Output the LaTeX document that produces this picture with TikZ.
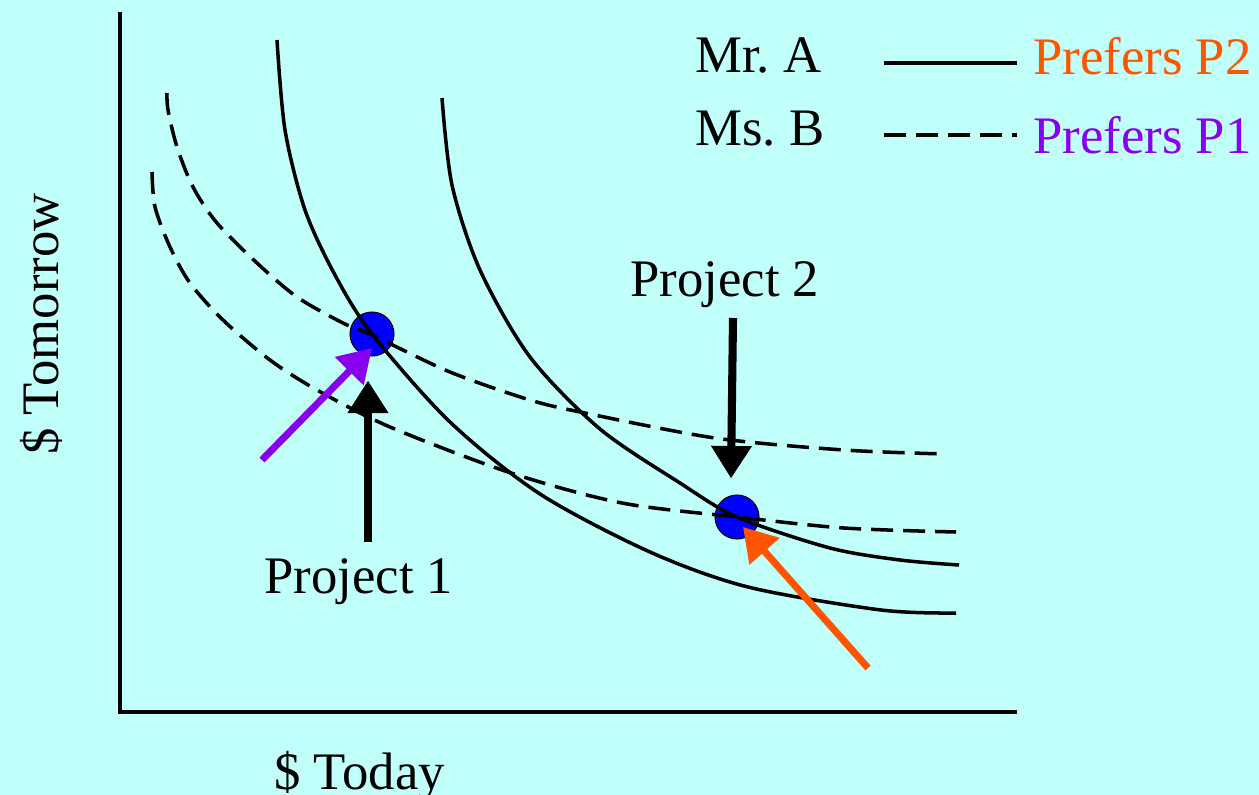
\documentclass[tikz,border=0pt]{standalone}
\usepackage{fontspec}
\setmainfont{Liberation Serif}
\usepackage{tikz}
\usetikzlibrary{arrows.meta, calc}
\definecolor{bgcyan}{RGB}{192,255,250}
\definecolor{porange}{RGB}{255,85,0}
\definecolor{ppurple}{RGB}{136,0,238}

\begin{document}
\begin{tikzpicture}[x=0.02cm, y=-0.02cm,
    every node/.style={font=\fontsize{30}{36}\selectfont, inner sep=0pt},
    curve/.style={line width=2pt},
    dcurve/.style={line width=2pt, dash pattern=on 12.5pt off 5.7pt},
    project/.style={circle, draw=black, line width=0.6pt, fill=blue, minimum size=0.88cm},
    bigarrow/.style={line width=4.6pt, -{Triangle[length=18.5pt, width=22pt]}}]
  \fill[bgcyan] (0,0) rectangle (1259,795);
  \useasboundingbox (0,0) rectangle (1259,795);

  % axes
  \coordinate (origin) at (120,712);
  \coordinate (ytop) at (120,12);
  \coordinate (xend) at (1017,712);
  \draw[line width=2.3pt] (ytop) -- (origin) -- (xend);
  \node[anchor=base west] (xlbl) at (274,789) {\$ Today};
  \node[rotate=90, anchor=base west] (ylbl) at (58,455) {\$ Tomorrow};

  % the two projects
  \node[project] (proj1) at (372,334) {};
  \node[project] (proj2) at (737,517) {};

  % Mr. A (solid)
  \draw[curve] plot[smooth] coordinates {(277,40) (285,130) (305,210) (335,275)
    (372,334) (450,422) (540,494) (650,552) (748,587) (881,610) (956,613)};
  \draw[curve] plot[smooth] coordinates {(442,98) (452,185) (480,270) (530,357)
    (600,429) (680,483) (737,517) (830,548) (900,560) (959,565)};
  % Ms. B (dashed)
  \draw[dcurve] plot[smooth] coordinates {(167,93) (168,110) (177,147) (193,187) (217,223)
    (257,263) (297,297) (343,323) (372,335) (450,372) (530,400) (585,413) (715,438)
    (844,450) (946,454)};
  \draw[dcurve] plot[smooth] coordinates {(152,172) (155,207) (170,247) (190,283) (223,320)
    (270,360) (317,390) (390,427) (511,473) (622,503) (737,517) (844,528) (956,532)};

  % legend
  \node[anchor=base west] (mra) at (695,72) {Mr.\ A};
  \node[anchor=base west] (msb) at (695,145) {Ms.\ B};
  \coordinate (solidL) at (884,63);
  \coordinate (solidR) at (1017,63);
  \coordinate (dashL) at (884,135);
  \coordinate (dashR) at (1017,135);
  \draw[line width=2pt] (solidL) -- (solidR);
  \draw[line width=2pt, dash pattern=on 12.5pt off 5.7pt] (dashL) -- (dashR);
  \node[anchor=base west, text=porange] (pref2) at (1033,74) {Prefers P2};
  \node[anchor=base west, text=ppurple] (pref1) at (1033,153) {Prefers P1};

  % labels and arrows
  \node[anchor=base west] (p1lbl) at (264,593) {Project 1};
  \node[anchor=base west] (p2lbl) at (630,296) {Project 2};
  \coordinate (p1tail) at (368,542);
  \coordinate (p2tail) at (733,318);
  \coordinate (purptail) at (262,460);
  \coordinate (orgtail) at (868,668);
  \draw[bigarrow] (p1tail) -- ($(proj1.south)+(-4,24)$);
  \draw[bigarrow] (p2tail) -- ($(proj2.north)+(-6,-16)$);
  \draw[bigarrow, line width=4pt, ppurple] (purptail) -- ($(proj1)+(0,14)$);
  \draw[bigarrow, line width=4pt, porange] (orgtail) -- ($(proj2)+(6,10)$);
\end{tikzpicture}
\end{document}
